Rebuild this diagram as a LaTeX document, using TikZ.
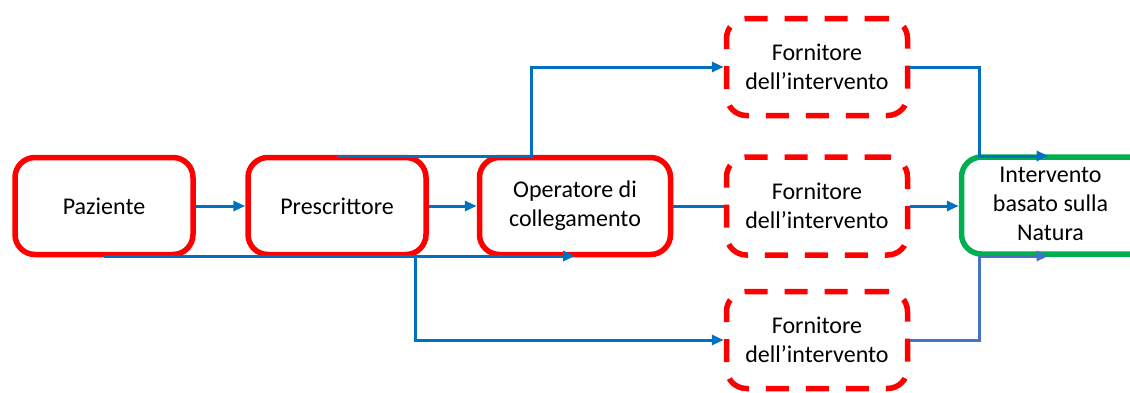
\documentclass[tikz,border=0pt]{standalone}
\usepackage{fontspec}
\setmainfont{Carlito}
\usetikzlibrary{arrows.meta,calc}
\definecolor{rd}{HTML}{FF0000}
\definecolor{bl}{HTML}{0070C0}
\definecolor{lb}{HTML}{4472C4}
\definecolor{gr}{HTML}{00B050}
\begin{document}
\begin{tikzpicture}[x=1pt,y=-1pt,
  box/.style={draw=rd,line width=5.5pt,rounded corners=20pt,fill=white,align=center,
    font=\fontsize{24}{29}\selectfont,inner sep=0pt,minimum height=97pt},
  dbox/.style={box,dash pattern=on 23pt off 17pt},
  gbox/.style={box,draw=gr},
  arr/.style={draw=bl,line width=3pt,-{Triangle[length=12pt,width=10pt]}},
  ln/.style={draw=bl,line width=3pt}]
\useasboundingbox (0,0) rectangle (1130,392);
\node[box,minimum width=178pt] (paz) at (104,206) {Paziente};
\node[box,minimum width=178pt] (pres) at (337,206) {Prescrittore};
\node[box,minimum width=191pt] (op) at (575,206) {Operatore di\\collegamento};
\node[dbox,minimum width=181pt] (f1) at (817,67) {Fornitore\\dell’intervento};
\node[dbox,minimum width=181pt,minimum height=98pt] (f2) at (817,206) {Fornitore\\dell’intervento};
\node[dbox,minimum width=181pt] (f3) at (817,340) {Fornitore\\dell’intervento};
\node[gbox,minimum width=200pt] (g) at (1061.5,205.5)
  {\hspace*{-22pt}\begin{tabular}{@{}c@{}}Intervento\\basato sulla\\Natura\end{tabular}};
% connectors
\draw[arr] (paz.east) -- (pres.west);
\draw[arr] (pres.east) -- (op.west);
\draw[ln] (op.east) -- (f2.west);
\draw[arr] (f2.east) -- (f2.east -| g.west);
\coordinate (t1) at (531,156);
\draw[arr] (pres.north |- t1) -- (t1) |- (f1.west);
\coordinate (b0) at (104,256);
\draw[arr] (b0) -- (b0 -| op.south);
\coordinate (b1) at (415,256);
\draw[arr] (b1) |- (f3.west);
\coordinate (r1) at (979,156);
\draw[arr] (f1.east) -| (r1) -- ([xshift=-13pt]r1 -| g.north);
\coordinate (r2) at (979,256);
\draw[arr,draw=lb,-{Triangle[length=12pt,width=10pt,fill=lb]}] (f3.east) -| (r2) -- ([xshift=-13pt]r2 -| g.south);
\end{tikzpicture}
\end{document}
